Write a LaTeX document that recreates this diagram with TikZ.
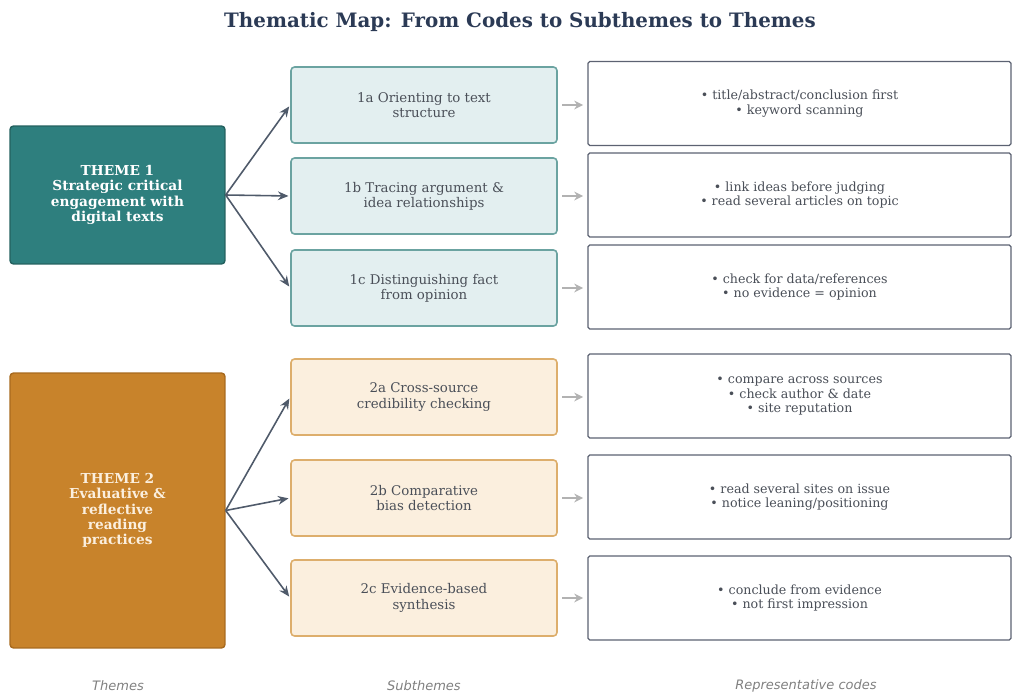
\documentclass[tikz,border=0pt]{standalone}
\usepackage{fontspec}
\setmainfont{DejaVu Serif}
\newfontfamily\labelfont{DejaVu Sans}
\usepackage{xcolor}
\usepackage{tikz}
\usetikzlibrary{arrows.meta,positioning}
\definecolor{titleblue}{HTML}{2B3A55}
\definecolor{tealfill}{HTML}{2E7F7E}
\definecolor{tealline}{HTML}{24615F}
\definecolor{orangefill}{HTML}{C8832B}
\definecolor{orangeline}{HTML}{A86A1E}
\definecolor{subtealfill}{HTML}{E3EFF0}
\definecolor{subtealline}{HTML}{6BA3A1}
\definecolor{suborgfill}{HTML}{FBEFDE}
\definecolor{suborgline}{HTML}{DDAE6C}
\definecolor{codeline}{HTML}{5C6272}
\definecolor{textgray}{HTML}{4A4F58}
\definecolor{linkdark}{HTML}{4F5A6A}
\definecolor{linklight}{HTML}{B2B2B2}
\tikzset{
  theme/.style={rectangle,rounded corners=2pt,line width=0.8pt,minimum width=4.30cm,
    align=center,font=\fontsize{7.8}{8.7}\selectfont\bfseries},
  subtheme/.style={rectangle,rounded corners=2pt,line width=0.9pt,minimum width=5.32cm,
    minimum height=1.52cm,align=center,text=textgray,font=\fontsize{7.6}{8.7}\selectfont},
  codes/.style={rectangle,rounded corners=1pt,draw=codeline,line width=0.7pt,fill=white,
    minimum width=8.46cm,minimum height=1.68cm,align=center,text=textgray,
    font=\fontsize{7.2}{8.1}\selectfont},
  tolink/.style={-{Stealth[length=6pt,width=5pt]},draw=linkdark,line width=0.9pt,shorten >=1pt},
  codelink/.style={-{Stealth[length=5pt,width=5pt]},draw=linklight,line width=0.9pt,
    shorten <=2.5pt,shorten >=2.5pt},
  collabel/.style={text=gray,font=\labelfont\itshape\fontsize{7.4}{8.5}\selectfont}
}

\begin{document}
\begin{tikzpicture}[x=0.02cm,y=-0.02cm]
        \useasboundingbox (0,0) rectangle (1012,693);
        \node at (520,22) [font=\fontsize{11.3}{13}\selectfont\bfseries,text=titleblue] (title)
          {Thematic Map: From Codes to Subthemes to Themes};
        % themes
        \node at (117.5,195) [theme,fill=tealfill,draw=tealline,text=white,minimum height=2.76cm] (t1)
          {THEME 1\\Strategic critical\\engagement with\\digital texts};
        \node at (117.5,510.5) [theme,fill=orangefill,draw=orangeline,text=suborgfill,minimum height=5.50cm] (t2)
          {THEME 2\\Evaluative \&\\reflective\\reading\\practices};
        % subthemes
        \node at (424,105) [subtheme,fill=subtealfill,draw=subtealline] (s1a) {1a Orienting to text\\structure};
        \node at (424,196) [subtheme,fill=subtealfill,draw=subtealline] (s1b) {1b Tracing argument \&\\idea relationships};
        \node at (424,288) [subtheme,fill=subtealfill,draw=subtealline] (s1c) {1c Distinguishing fact\\from opinion};
        \node at (424,397) [subtheme,fill=suborgfill,draw=suborgline] (s2a) {2a Cross-source\\credibility checking};
        \node at (424,498) [subtheme,fill=suborgfill,draw=suborgline] (s2b) {2b Comparative\\bias detection};
        \node at (424,598) [subtheme,fill=suborgfill,draw=suborgline] (s2c) {2c Evidence-based\\synthesis};
        % codes
        \node at (799.5,103.5) [codes] (c1a) {• title/abstract/conclusion first\\• keyword scanning};
        \node at (799.5,195) [codes] (c1b) {• link ideas before judging\\• read several articles on topic};
        \node at (799.5,287) [codes] (c1c) {• check for data/references\\• no evidence = opinion};
        \node at (799.5,396) [codes] (c2a) {• compare across sources\\• check author \& date\\• site reputation};
        \node at (799.5,497) [codes] (c2b) {• read several sites on issue\\• notice leaning/positioning};
        \node at (799.5,598) [codes] (c2c) {• conclude from evidence\\• not first impression};
        % links
        \foreach \s in {s1a,s1b,s1c}
          \draw [tolink] (t1.east) -- (\s.west);
        \foreach \s in {s2a,s2b,s2c}
          \draw [tolink] (t2.east) -- (\s.west);
        \foreach \s/\c in {s1a/c1a,s1b/c1b,s1c/c1c,s2a/c2a,s2b/c2b,s2c/c2c}
          \draw [codelink] (\s.east) -- (\s.east -| \c.west);
        % column labels
        \node at (118,686) [collabel] (lt) {Themes};
        \node at (424,686) [collabel] (ls) {Subthemes};
        \node at (806,686) [collabel] (lc) {Representative codes};
      \end{tikzpicture}
\end{document}
